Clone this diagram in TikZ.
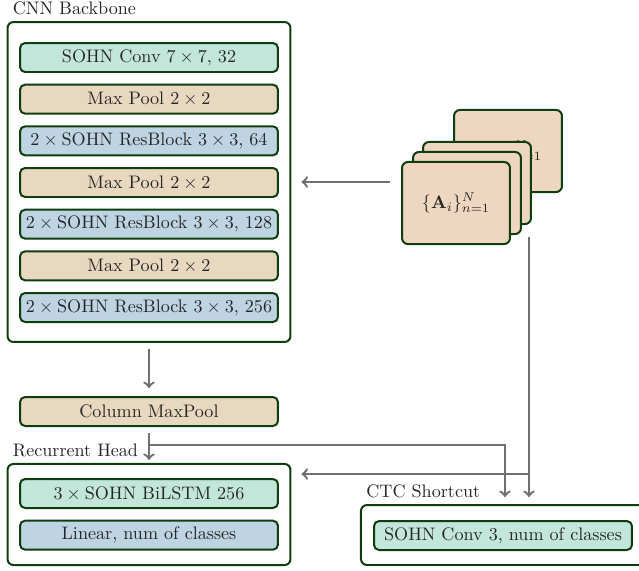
\documentclass[tikz,border=0pt]{standalone}
\usetikzlibrary{positioning}
\definecolor{edgegreen}{RGB}{14,62,14}
\definecolor{convgreen}{RGB}{194,230,217}
\definecolor{pooltan}{RGB}{232,216,192}
\definecolor{resblue}{RGB}{190,212,226}
\definecolor{cardpeach}{RGB}{238,214,192}
\definecolor{flowgray}{RGB}{112,112,112}
\begin{document}
\begin{tikzpicture}[x=0.552pt, y=-0.552pt, node distance=5.9pt,
    every node/.style={text=black!85},
    layer/.style={draw=edgegreen, line width=1.1pt, rounded corners=2.8pt,
      inner xsep=0pt, minimum width=142.4pt, minimum height=16pt},
    conv/.style={layer, fill=convgreen},
    pool/.style={layer, fill=pooltan},
    res/.style={layer, fill=resblue},
    group/.style={draw=edgegreen, line width=1.1pt, rounded corners=3.3pt, minimum width=156.2pt},
    grouplabel/.style={anchor=south west},
    card/.style={draw=edgegreen, line width=1.1pt, rounded corners=3.3pt, fill=cardpeach,
      minimum width=59.6pt, minimum height=45.3pt},
    flow/.style={->, draw=flowgray, line width=1.3pt}]
  \useasboundingbox (0,0) rectangle (639,570);

  % groups
  \node[group, minimum height=176.6pt] (backbone) at (149,182) {};
  \node[grouplabel] at (backbone.north west) {CNN Backbone};
  \node[group, minimum height=55.8pt] (rechead) at (149,514.5) {};
  \node[grouplabel] at (rechead.north west) {Recurrent Head};
  \node[group, minimum height=33.1pt, minimum width=156.8pt] (ctc) at (503,535) {};
  \node[grouplabel] at (ctc.north west) {CTC Shortcut};

  % backbone layers
  \node[conv] (conv1) at (149,57.5) {SOHN Conv $7 \times 7$, 32};
  \node[pool, below=of conv1] (pool1) {Max Pool $2 \times 2$};
  \node[res, below=of pool1] (res1) {$2 \times {}$SOHN ResBlock $3 \times 3$, 64};
  \node[pool, below=of res1] (pool2) {Max Pool $2 \times 2$};
  \node[res, below=of pool2] (res2) {$2 \times {}$SOHN ResBlock $3 \times 3$, 128};
  \node[pool, below=of res2] (pool3) {Max Pool $2 \times 2$};
  \node[res, below=of pool3] (res3) {$2 \times {}$SOHN ResBlock $3 \times 3$, 256};

  \node[pool] (colpool) at (149,411.5) {Column MaxPool};

  % heads
  \node[conv] (lstm) at (149,493.5) {$3 \times {}$SOHN BiLSTM 256};
  \node[res, below=of lstm] (linear) {Linear, num of classes};
  \node[conv] (ctcconv) at (503,535.5) {SOHN Conv 3, num of classes};

  % input stack
  \node[card] (card4) at (508,151) {$\{\mathbf{A}_i\}_{n=1}^{N}$};
  \foreach \i/\p in {3/{477,183}, 2/{467,193}}
    \node[card] (card\i) at (\p) {};
  \node[card] (card1) at (456,203) {$\{\mathbf{A}_i\}_{n=1}^{N}$};

  \coordinate (split) at (149,445);
  \coordinate (ctcin) at (505,497);
  \coordinate (cardout) at (529,237);
  \coordinate (skip) at (529,497);
  \coordinate (merge) at (529,474);

  \draw[flow, shorten <=6pt, shorten >=5.5pt] (backbone.east -| card1.west) -- (backbone.east);
  \draw[flow, shorten <=3.3pt, shorten >=4.4pt] (backbone.south) -- (colpool.north);
  \draw[flow, shorten <=3.3pt, shorten >=1.7pt] (colpool.south) -- (rechead.north);
  \draw[flow] (split) -| (ctcin);
  \draw[flow] (cardout) -- (skip);
  \draw[flow, shorten >=5.5pt] (merge) -- (merge -| rechead.east);
\end{tikzpicture}
\end{document}
